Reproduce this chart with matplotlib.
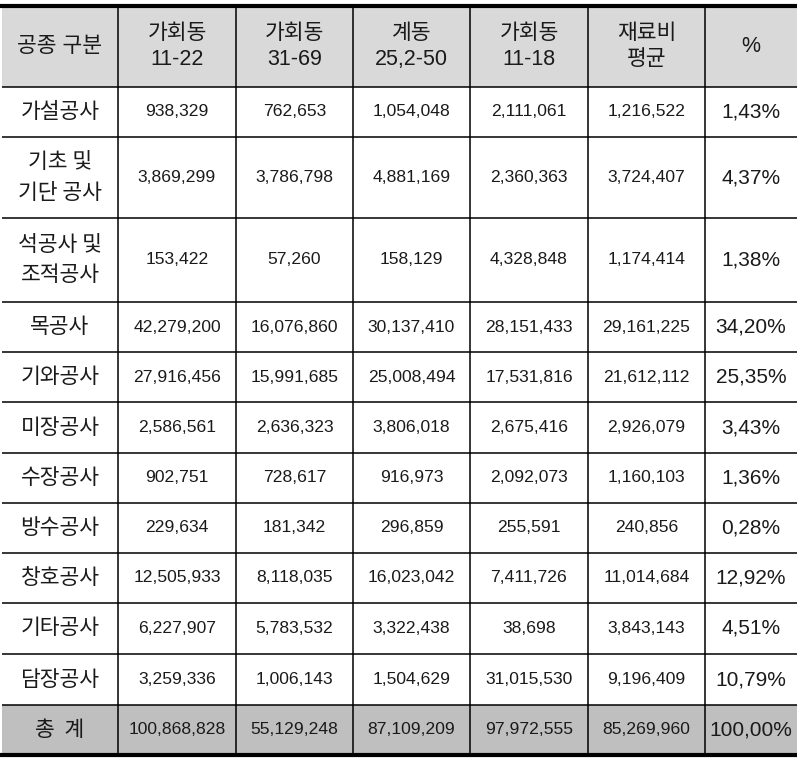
import matplotlib
matplotlib.use('Agg')
import matplotlib.pyplot as plt
from matplotlib.patches import Rectangle

# ---- data ----
headers = ['공종 구분', '가회동\n11-22', '가회동\n31-69', '계동\n25,2-50', '가회동\n11-18', '재료비\n평균', '%']
items = ['가설공사', '기초 및\n기단 공사', '석공사 및\n조적공사', '목공사', '기와공사', '미장공사',
         '수장공사', '방수공사', '창호공사', '기타공사', '담장공사']
gahoe_11_22 = [938329, 3869299, 153422, 42279200, 27916456, 2586561, 902751, 229634, 12505933, 6227907, 3259336]
gahoe_31_69 = [762653, 3786798, 57260, 16076860, 15991685, 2636323, 728617, 181342, 8118035, 5783532, 1006143]
gye_25_50 = [1054048, 4881169, 158129, 30137410, 25008494, 3806018, 916973, 296859, 16023042, 3322438, 1504629]
gahoe_11_18 = [2111061, 2360363, 4328848, 28151433, 17531816, 2675416, 2092073, 255591, 7411726, 38698, 31015530]
avg_cost = [1216522, 3724407, 1174414, 29161225, 21612112, 2926079, 1160103, 240856, 11014684, 3843143, 9196409]
pct = [1.43, 4.37, 1.38, 34.20, 25.35, 3.43, 1.36, 0.28, 12.92, 4.51, 10.79]
total_label = '총  계'
totals = [100868828, 55129248, 87109209, 97972555, 85269960]
total_pct = 100.00

# ---- layout (pixels) ----
col_edges = [2, 118, 236, 353, 470, 588, 705, 797]
row_edges = [6, 87, 137, 218, 302, 352, 402, 453, 503, 553, 603, 654, 705, 755]
header_bg = '#d9d9d9'
total_bg = '#bfbfbf'
txt = '#1a1a1a'
KR = ['Noto Sans CJK KR', 'DejaVu Sans']
NUM = ['Liberation Sans', 'Noto Sans CJK KR']


def fmt_int(v):
    return f'{v:,}'


def fmt_pct(v):
    return f'{v:.2f}%'.replace('.', ',')


fig = plt.figure(figsize=(8.04, 7.80), dpi=100)
ax = fig.add_axes([0, 0, 1, 1])
ax.set_xlim(0, 804)
ax.set_ylim(780, 0)
ax.axis('off')

# backgrounds
ax.add_patch(Rectangle((col_edges[0], row_edges[0]), col_edges[-1] - col_edges[0],
                       row_edges[1] - row_edges[0], color=header_bg, lw=0))
ax.add_patch(Rectangle((col_edges[0], row_edges[-2]), col_edges[-1] - col_edges[0],
                       row_edges[-1] - row_edges[-2], color=total_bg, lw=0))

# grid lines
for x in col_edges[1:-1]:
    ax.plot([x, x], [row_edges[0], row_edges[-1]], color='black', lw=1.1, solid_capstyle='butt')
for y in row_edges[1:-1]:
    ax.plot([col_edges[0], col_edges[-1]], [y, y], color='black', lw=1.1, solid_capstyle='butt')
ax.plot([0, col_edges[-1]], [row_edges[0], row_edges[0]], color='black', lw=3.0, solid_capstyle='butt')
ax.plot([0, col_edges[-1]], [row_edges[-1], row_edges[-1]], color='black', lw=3.0, solid_capstyle='butt')


def cx(i):
    return (col_edges[i] + col_edges[i + 1]) / 2


def cy(j):
    return (row_edges[j] + row_edges[j + 1]) / 2


# header
for i, h in enumerate(headers):
    ax.text(cx(i), cy(0), h, ha='center', va='center', fontsize=15.5, color=txt,
            family=NUM, linespacing=1.3)

# body rows
cols = [gahoe_11_22, gahoe_31_69, gye_25_50, gahoe_11_18, avg_cost]
for j, name in enumerate(items):
    y = cy(j + 1)
    ax.text(cx(0), y, name, ha='center', va='center', fontsize=15.5, color=txt,
            family=KR, linespacing=1.5)
    for i, col in enumerate(cols):
        ax.text(cx(i + 1), y, fmt_int(col[j]), ha='center', va='center', fontsize=12.6,
                color=txt, family=NUM)
    ax.text(cx(6), y, fmt_pct(pct[j]), ha='center', va='center', fontsize=15,
            color=txt, family=NUM)

# total row
y = cy(len(row_edges) - 2)
ax.text(cx(0), y, total_label, ha='center', va='center', fontsize=15.5, color=txt, family=KR)
for i, v in enumerate(totals):
    ax.text(cx(i + 1), y, fmt_int(v), ha='center', va='center', fontsize=12.6,
            color=txt, family=NUM)
ax.text(cx(6), y, fmt_pct(total_pct), ha='center', va='center', fontsize=15,
        color=txt, family=NUM)

fig.savefig('out.png', dpi=100, facecolor='white')
